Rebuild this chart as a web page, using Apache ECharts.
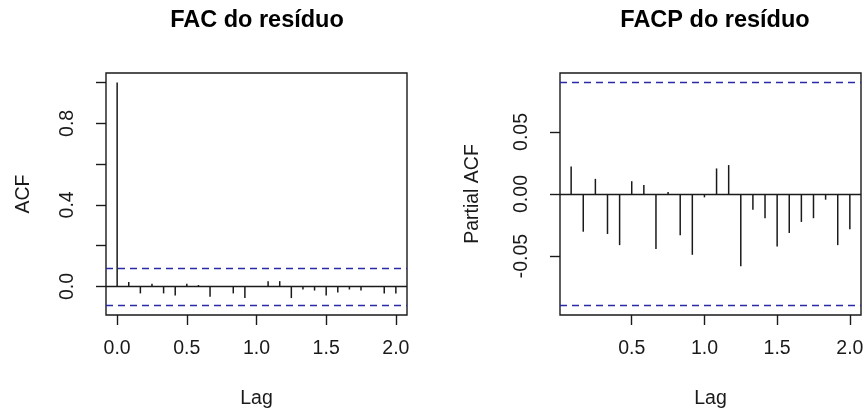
<!DOCTYPE html>
<html>
<head>
<meta charset="utf-8">
<script src="https://cdn.jsdelivr.net/npm/echarts@6/dist/echarts.min.js"></script>
<style>
  html, body { margin: 0; padding: 0; background: #fff; }
  #chart { width: 864px; height: 410px; }
</style>
</head>
<body>
<div id="chart"></div>
<script>
// Residual ACF / PACF, monthly series (lag in years, step 1/12)
const acfLags = [0, 1, 2, 3, 4, 5, 6, 7, 8, 9, 10, 11, 12, 13, 14, 15, 16, 17, 18, 19, 20, 21, 22, 23, 24];
const acfValues = [1.0, 0.022, -0.034, 0.013, -0.034, -0.044, 0.013, 0.007, -0.050, -0.002, -0.034, -0.057, -0.002,
    0.026, 0.026, -0.057, -0.015, -0.020, -0.044, -0.030, -0.015, -0.020, -0.003, -0.034, -0.034];
const pacfLags = [1, 2, 3, 4, 5, 6, 7, 8, 9, 10, 11, 12, 13, 14, 15, 16, 17, 18, 19, 20, 21, 22, 23, 24];
const pacfValues = [0.0222, -0.0304, 0.0122, -0.0322, -0.0412, 0.0103, 0.0073, -0.0444, 0.0016, -0.0333, -0.0490, -0.0027,
    0.0206, 0.0233, -0.0583, -0.0127, -0.0195, -0.0423, -0.0314, -0.0225, -0.0195, -0.0046, -0.0412, -0.0285];
const confLimit = [0.0904];
const freq = 12;

const acfXTicks = [0, 0.5, 1.0, 1.5, 2.0];
const pacfXTicks = [0.5, 1.0, 1.5, 2.0];
const acfYTicks = [0, 0.2, 0.4, 0.6, 0.8, 1.0];
const acfYLabels = [0, 0.4, 0.8];
const pacfYTicks = [-0.05, 0, 0.05];

const FONT = "'Liberation Sans', Arial, sans-serif";
const INK = '#1a1a1a';
const BLUE = '#2a2aa8';
const LABEL_SIZE = 19.5;

function xAxisFor(gridIndex, min, max, ticks) {
    return {
        type: 'value', gridIndex: gridIndex, min: min, max: max,
        name: 'Lag', nameLocation: 'middle', nameGap: 74,
        nameTextStyle: { fontFamily: FONT, fontSize: LABEL_SIZE, color: INK },
        axisLine: { show: false, onZero: false },
        axisTick: { show: true, length: 10, lineStyle: { color: INK, width: 1.4 }, customValues: ticks },
        axisLabel: { fontFamily: FONT, fontSize: LABEL_SIZE, color: INK, margin: 24, customValues: ticks,
            formatter: v => v.toFixed(1) },
        splitLine: { show: false }
    };
}

function yAxisFor(gridIndex, min, max, ticks, labels, digits, name, gap) {
    return {
        type: 'value', gridIndex: gridIndex, min: min, max: max,
        name: name, nameLocation: 'middle', nameGap: gap, nameRotate: 90,
        nameTextStyle: { fontFamily: FONT, fontSize: LABEL_SIZE, color: INK },
        axisLine: { show: false, onZero: false },
        axisTick: { show: true, length: 10, lineStyle: { color: INK, width: 1.4 }, customValues: ticks },
        axisLabel: { fontFamily: FONT, fontSize: LABEL_SIZE, color: INK, margin: 28, rotate: 90, customValues: labels,
            formatter: v => v.toFixed(digits) },
        splitLine: { show: false }
    };
}

function stems(lags, values, axisIndex, clim) {
    return {
        type: 'bar', xAxisIndex: axisIndex, yAxisIndex: axisIndex,
        barWidth: 1.5, silent: true,
        itemStyle: { color: INK },
        data: lags.map((k, i) => [k / freq, values[i]]),
        markLine: {
            silent: true, symbol: 'none', label: { show: false },
            data: [
                { yAxis: 0, lineStyle: { color: INK, type: 'solid', width: 1.4 } },
                { yAxis: clim, lineStyle: { color: BLUE, type: [7, 5], width: 1.4 } },
                { yAxis: -clim, lineStyle: { color: BLUE, type: [7, 5], width: 1.4 } }
            ]
        }
    };
}

const gridBase = { top: 73, width: 301, height: 242, show: true, borderColor: INK, borderWidth: 1.4,
    backgroundColor: 'transparent', containLabel: false, outerBoundsMode: 'none' };

const chart = echarts.init(document.getElementById('chart'));
chart.setOption({
    animation: false,
    backgroundColor: '#fff',
    title: [
        { text: 'FAC do resíduo', left: 252, top: 4, textAlign: 'center',
          textStyle: { fontFamily: FONT, fontSize: 23.5, fontWeight: 'bold', color: '#000' } },
        { text: 'FACP do resíduo', left: 710, top: 4, textAlign: 'center',
          textStyle: { fontFamily: FONT, fontSize: 23.5, fontWeight: 'bold', color: '#000' } }
    ],
    grid: [
        Object.assign({ left: 106 }, gridBase),
        Object.assign({ left: 560 }, gridBase)
    ],
    xAxis: [
        xAxisFor(0, -0.08, 2.08, acfXTicks),
        xAxisFor(1, 0.0067, 2.0767, pacfXTicks)
    ],
    yAxis: [
        yAxisFor(0, -0.140, 1.047, acfYTicks, acfYLabels, 1, 'ACF', 72),
        yAxisFor(1, -0.0975, 0.0975, pacfYTicks, pacfYTicks, 2, 'Partial ACF', 77)
    ],
    series: [
        stems(acfLags, acfValues, 0, confLimit[0]),
        stems(pacfLags, pacfValues, 1, confLimit[0])
    ]
});
</script>
</body>
</html>
